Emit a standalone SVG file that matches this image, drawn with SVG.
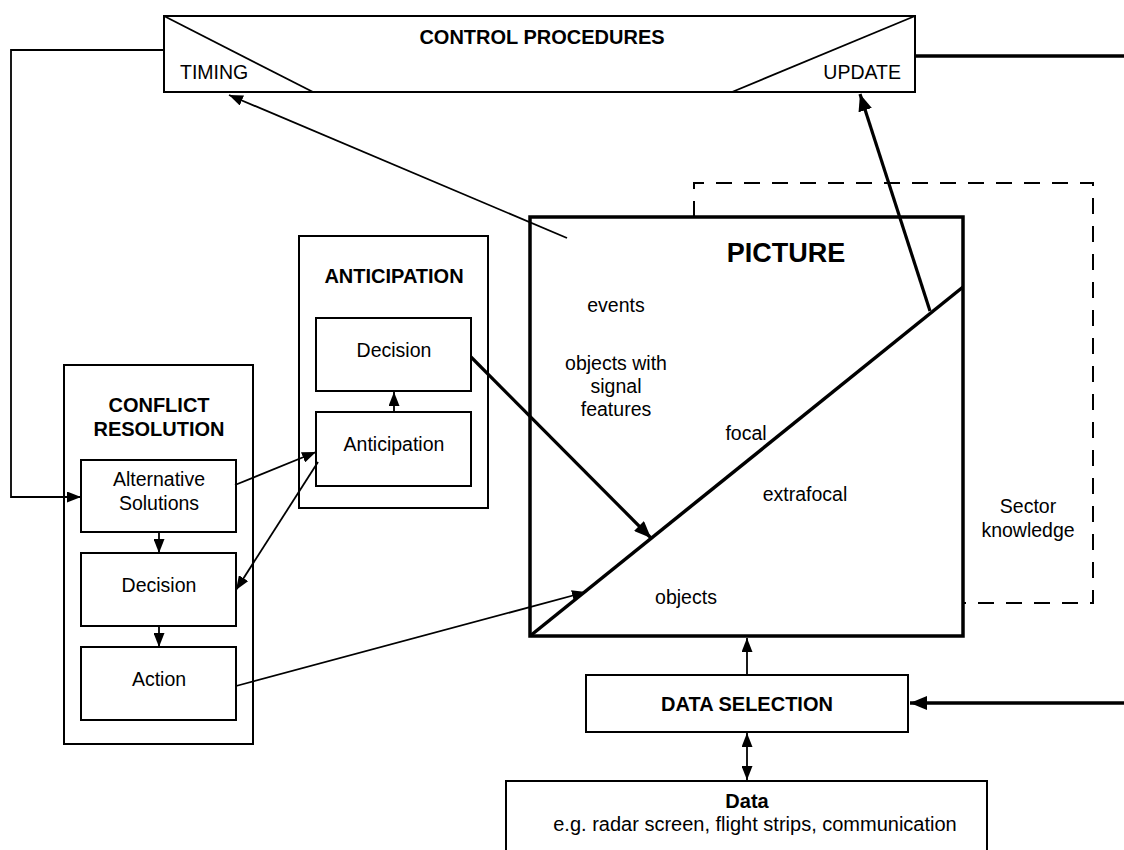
<svg xmlns="http://www.w3.org/2000/svg" width="1124" height="850" viewBox="0 0 1124 850">
  <style>
    .box { fill: #fff; stroke: #000; stroke-width: 2; }
    .thick { fill: none; stroke: #000; stroke-width: 3.5; }
    .ln { fill: none; stroke: #000; stroke-width: 1.8; }
    .lnb { fill: none; stroke: #000; stroke-width: 3.2; }
    .dash { fill: none; stroke: #000; stroke-width: 2; stroke-dasharray: 16 12; }
    text { font-family: "Liberation Sans", Arial, Helvetica, sans-serif; font-size: 19.5px; fill: #000; text-anchor: middle; }
    .b { font-weight: bold; font-size: 20px; }
    .big { font-weight: bold; font-size: 27px; }
    .l { text-anchor: start; }
    .r { text-anchor: end; }
  </style>
  <defs>
    <marker id="ah" markerUnits="userSpaceOnUse" markerWidth="14" markerHeight="11" refX="14" refY="5.5" orient="auto-start-reverse">
      <path d="M0,0 L14,5.5 L0,11 z" fill="#000"/>
    </marker>
    <marker id="ahb" markerUnits="userSpaceOnUse" markerWidth="17" markerHeight="14" refX="17" refY="7" orient="auto">
      <path d="M0,0 L17,7 L0,14 z" fill="#000"/>
    </marker>
  </defs>

  <rect width="1124" height="850" fill="#fff"/>

  <!-- Control procedures bar with timing / update corners -->
  <g id="control-procedures">
    <rect class="box" x="164" y="16" width="751" height="76"/>
    <line class="ln" x1="164" y1="16" x2="313" y2="92"/>
    <line class="ln" x1="915" y1="16" x2="732" y2="92"/>
    <text class="b" x="542" y="44">CONTROL PROCEDURES</text>
    <text class="l" x="180" y="79">TIMING</text>
    <text class="r" x="901" y="79">UPDATE</text>
  </g>

  <!-- Sector knowledge (dashed frame behind the picture) -->
  <g id="sector-knowledge">
    <polyline class="dash" points="694,217 694,183 1093,183 1093,603 963,603"/>
    <text x="1028" y="513">Sector</text>
    <text x="1028" y="537">knowledge</text>
  </g>

  <!-- Picture -->
  <g id="picture">
    <rect x="530" y="217" width="433" height="419" fill="#fff" stroke="#000" stroke-width="3.5"/>
    <line class="thick" x1="530" y1="636" x2="963" y2="287"/>
    <text class="big" x="786" y="262">PICTURE</text>
    <text x="616" y="312">events</text>
    <text x="616" y="370">objects with</text>
    <text x="616" y="393">signal</text>
    <text x="616" y="416">features</text>
    <text x="746" y="440">focal</text>
    <text x="805" y="501">extrafocal</text>
    <text x="686" y="604">objects</text>
  </g>

  <!-- Anticipation -->
  <g id="anticipation">
    <rect class="box" x="299" y="236" width="189" height="272"/>
    <text class="b" x="394" y="283">ANTICIPATION</text>
    <g id="anticipation-decision">
      <rect class="box" x="316" y="318" width="155" height="73"/>
      <text x="394" y="357">Decision</text>
    </g>
    <g id="anticipation-anticipation">
      <rect class="box" x="316" y="412" width="155" height="74"/>
      <text x="394" y="451">Anticipation</text>
    </g>
  </g>

  <!-- Conflict resolution -->
  <g id="conflict-resolution">
    <rect class="box" x="64" y="365" width="189" height="379"/>
    <text class="b" x="159" y="412">CONFLICT</text>
    <text class="b" x="159" y="436">RESOLUTION</text>
    <g id="alternative-solutions">
      <rect class="box" x="81" y="460" width="155" height="72"/>
      <text x="159" y="486">Alternative</text>
      <text x="159" y="510">Solutions</text>
    </g>
    <g id="cr-decision">
      <rect class="box" x="81" y="553" width="155" height="73"/>
      <text x="159" y="592">Decision</text>
    </g>
    <g id="action">
      <rect class="box" x="81" y="647" width="155" height="73"/>
      <text x="159" y="686">Action</text>
    </g>
  </g>

  <!-- Data selection -->
  <g id="data-selection">
    <rect class="box" x="586" y="675" width="322" height="57"/>
    <text class="b" x="747" y="711">DATA SELECTION</text>
  </g>

  <!-- Data sources -->
  <g id="data">
    <rect class="box" x="506" y="781" width="481" height="80"/>
    <text class="b" x="747" y="808">Data</text>
    <text x="755" y="831" style="font-size:20px">e.g. radar screen, flight strips, communication</text>
  </g>

  <!-- Connectors -->
  <g id="connectors">
    <!-- timing feedback to alternative solutions -->
    <polyline class="ln" points="164,50 11,50 11,497 81,497" marker-end="url(#ah)"/>
    <!-- picture to timing -->
    <line class="ln" x1="567" y1="238" x2="229" y2="95" marker-end="url(#ah)"/>
    <!-- picture to update -->
    <line class="lnb" x1="930" y1="311" x2="860" y2="94" marker-end="url(#ahb)"/>
    <!-- update out to the right -->
    <line class="thick" x1="915" y1="56" x2="1124" y2="56"/>
    <!-- anticipation: anticipation to decision -->
    <line class="ln" x1="394" y1="412" x2="394" y2="392" marker-end="url(#ah)"/>
    <!-- anticipation decision onto the focal line -->
    <line class="lnb" x1="471" y1="357" x2="651" y2="538" marker-end="url(#ahb)"/>
    <!-- conflict resolution chain -->
    <line class="ln" x1="159" y1="532" x2="159" y2="553" marker-end="url(#ah)"/>
    <line class="ln" x1="159" y1="626" x2="159" y2="647" marker-end="url(#ah)"/>
    <!-- alternative solutions to anticipation -->
    <line class="ln" x1="235" y1="485" x2="316" y2="452" marker-end="url(#ah)"/>
    <!-- anticipation to conflict decision -->
    <line class="ln" x1="318" y1="462" x2="236" y2="590" marker-end="url(#ah)"/>
    <!-- action to picture objects -->
    <line class="ln" x1="236" y1="686" x2="586" y2="592" marker-end="url(#ah)"/>
    <!-- data selection up to picture -->
    <line class="ln" x1="747" y1="675" x2="747" y2="638" marker-end="url(#ah)"/>
    <!-- control input into data selection -->
    <line class="thick" x1="1124" y1="703" x2="910" y2="703" marker-end="url(#ahb)"/>
    <!-- data selection <-> data -->
    <line class="ln" x1="747" y1="733" x2="747" y2="780" marker-start="url(#ah)" marker-end="url(#ah)"/>
  </g>
</svg>
